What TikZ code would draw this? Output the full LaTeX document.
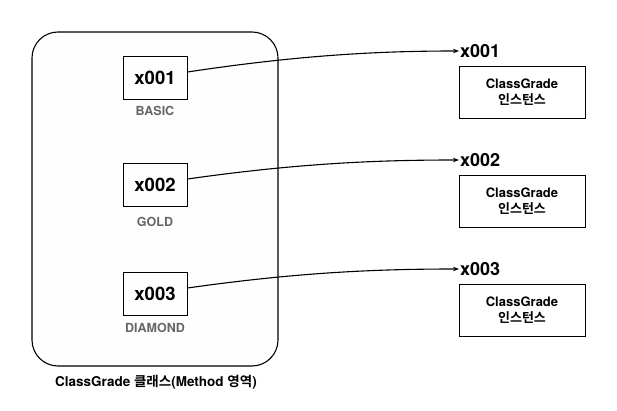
\documentclass[tikz,border=0pt]{standalone}
\usepackage{fontspec}
\setmainfont{TeX Gyre Heros}
\newfontfamily\kr{Noto Sans CJK KR}[BoldFont={Noto Sans CJK KR Bold}]
\usetikzlibrary{arrows.meta}
\begin{document}
\begin{tikzpicture}[x=1pt,y=-1pt,
  addr/.style={draw,line width=1pt,minimum width=64pt,minimum height=43pt,inner sep=0pt,font=\fontsize{18.5}{20}\selectfont\bfseries},
  grade/.style={text=black!60,font=\fontsize{12.5}{14}\selectfont\bfseries},
  inst/.style={draw,line width=0.8pt,minimum width=126pt,minimum height=52pt,inner sep=0pt,align=center,font=\fontsize{13}{16}\selectfont\bfseries},
  ptr/.style={font=\fontsize{18}{20}\selectfont\bfseries,anchor=west,inner sep=1pt},
  link/.style={line width=1.1pt,-{Stealth[length=6pt,width=4.5pt]}}]
\useasboundingbox (0,0) rectangle (617,411);
\node[draw,line width=1.1pt,rounded corners=26pt,fill=black!0.4,minimum width=246pt,minimum height=334pt] (cls) at (155,199) {};
\node[addr] (a1) at (155,78) {x001};
\node[addr] (a2) at (155,185) {x002};
\node[addr] (a3) at (155,294) {x003};
\node[grade] (g1) at (155,111) {BASIC};
\node[grade] (g2) at (155,222) {GOLD};
\node[grade] (g3) at (155,328) {DIAMOND};
\node[ptr] (p1) at (459,51) {x001};
\node[ptr] (p2) at (459,160) {x002};
\node[ptr] (p3) at (459,269) {x003};
\node[inst] (i1) at (522,92) {ClassGrade\\{\kr\bfseries 인스턴스}};
\node[inst] (i2) at (522,201) {ClassGrade\\{\kr\bfseries 인스턴스}};
\node[inst] (i3) at (522,310) {ClassGrade\\{\kr\bfseries 인스턴스}};
\node[font=\fontsize{13.5}{16}\selectfont\bfseries] (lbl) at (156,382) {ClassGrade {\kr\bfseries 클래스}(Method {\kr\bfseries 영역})};
\draw[link] ([yshift=6pt]a1.east) .. controls (300,55) and (380,51) .. (p1.west);
\draw[link] ([yshift=6pt]a2.east) .. controls (300,163) and (380,160) .. (p2.west);
\draw[link] ([yshift=6pt]a3.east) .. controls (300,272) and (380,269) .. (p3.west);
\end{tikzpicture}
\end{document}
